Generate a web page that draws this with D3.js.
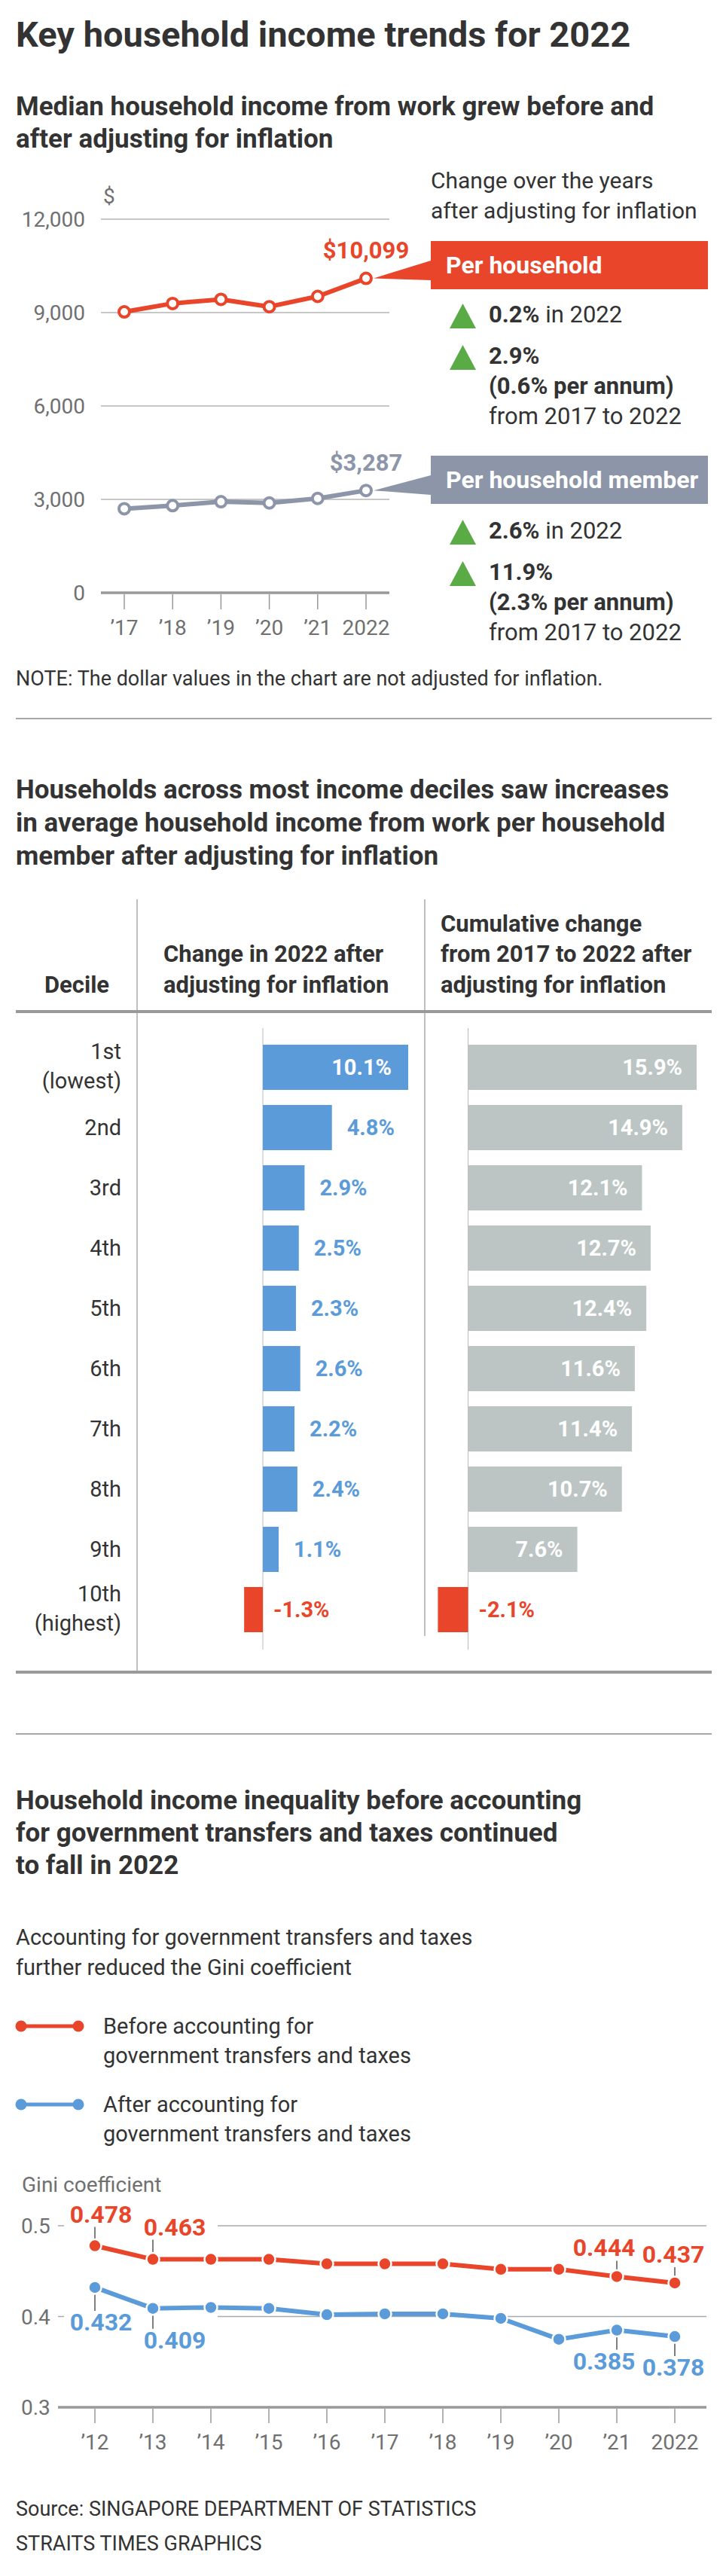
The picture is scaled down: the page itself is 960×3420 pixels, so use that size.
<!DOCTYPE html>
<html>
<head>
<meta charset="utf-8">
<script src="https://cdn.jsdelivr.net/npm/d3@7"></script>
<style>
body{margin:0;background:#fff;}
svg{display:block;font-family:Roboto,"Open Sans",sans-serif;}
</style>
</head>
<body>
<svg id="chart" width="960" height="3420"></svg>
<script>
// income from work (chart 1)
const years = ["2017", "2018", "2019", "2020", "2021", "2022"];
const yearLabels = ["’17", "’18", "’19", "’20", "’21", "2022"];
const perHousehold = [9023, 9293, 9425, 9189, 9520, 10099];
const perMember = [2700, 2800, 2925, 2885, 3030, 3287];
const incomeTicks = [0, 3000, 6000, 9000, 12000];

// deciles (chart 2)
const deciles = ["1st", "2nd", "3rd", "4th", "5th", "6th", "7th", "8th", "9th", "10th"];
const decileNotes = ["(lowest)", "", "", "", "", "", "", "", "", "(highest)"];
const change2022 = [10.1, 4.8, 2.9, 2.5, 2.3, 2.6, 2.2, 2.4, 1.1, -1.3];
const change1722 = [15.9, 14.9, 12.1, 12.7, 12.4, 11.6, 11.4, 10.7, 7.6, -2.1];

// gini (chart 3)
const giniYears = ["2012", "2013", "2014", "2015", "2016", "2017", "2018", "2019", "2020", "2021", "2022"];
const giniYearLabels = ["’12", "’13", "’14", "’15", "’16", "’17", "’18", "’19", "’20", "’21", "2022"];
const giniBefore = [0.478, 0.463, 0.463, 0.463, 0.458, 0.458, 0.458, 0.452, 0.452, 0.444, 0.437];
const giniAfter = [0.432, 0.409, 0.410, 0.409, 0.402, 0.403, 0.403, 0.398, 0.375, 0.385, 0.378];
const giniTicks = [0.3, 0.4, 0.5];
const giniAnnotated = ["2012", "2013", "2021", "2022"];

const TEXT = "#333", GREY = "#707070", RED = "#e8452a", BLUE = "#5b9bd9",
      SLATE = "#8c96a8", GREEN = "#5aab46", BARGREY = "#bcc5c3", RULE = "#999";

const svg = d3.select("#chart");

function label(g, x, y, str, size, weight, fill, anchor) {
    return g.append("text")
        .attr("x", x).attr("y", y)
        .attr("font-size", size)
        .attr("font-weight", weight || 400)
        .attr("fill", fill || TEXT)
        .attr("text-anchor", anchor || "start")
        .text(str);
}

function hline(g, x1, x2, y, w, c) {
    g.append("line").attr("x1", x1).attr("x2", x2).attr("y1", y).attr("y2", y)
        .attr("stroke", c || RULE).attr("stroke-width", w || 1.5);
}

function vline(g, x, y1, y2, w, c) {
    g.append("line").attr("x1", x).attr("x2", x).attr("y1", y1).attr("y2", y2)
        .attr("stroke", c || "#aaa").attr("stroke-width", w || 1.5);
}

// ---------- header ----------
label(svg, 21, 62, "Key household income trends for 2022", 47, 700);
label(svg, 21, 153, "Median household income from work grew before and", 35, 700);
label(svg, 21, 196, "after adjusting for inflation", 35, 700);

// ---------- chart 1: median income ----------
function drawIncome() {
    let g = svg.append("g");
    let x = d3.scalePoint().domain(years).range([165, 486]);
    let y = d3.scaleLinear().domain([0, 12000]).range([787, 291]);

    label(g, 137, 270, "$", 28, 400, GREY);

    g.selectAll("line.grid")
        .data(incomeTicks)
        .join("line")
        .attr("class", "grid")
        .attr("x1", 134).attr("x2", 517)
        .attr("y1", d => y(d)).attr("y2", d => y(d))
        .attr("stroke", d => d === 0 ? "#999" : "#b5b5b5")
        .attr("stroke-width", d => d === 0 ? 3.5 : 1.5);

    g.selectAll("text.ytick")
        .data(incomeTicks)
        .join("text")
        .attr("class", "ytick")
        .attr("x", 113).attr("y", d => y(d) + 10)
        .attr("text-anchor", "end")
        .attr("font-size", 28).attr("fill", GREY)
        .text(d => d3.format(",")(d));

    g.selectAll("line.xtick")
        .data(years)
        .join("line")
        .attr("class", "xtick")
        .attr("x1", d => x(d)).attr("x2", d => x(d))
        .attr("y1", y(0) + 2).attr("y2", y(0) + 22)
        .attr("stroke", "#999").attr("stroke-width", 1.5);

    g.selectAll("text.xtick")
        .data(years)
        .join("text")
        .attr("class", "xtick")
        .attr("x", d => x(d)).attr("y", 843)
        .attr("text-anchor", "middle")
        .attr("font-size", 28).attr("fill", GREY)
        .text((d, i) => yearLabels[i]);

    let series = [
        {values: perHousehold, color: RED, name: "Per household", boxTop: 320, labelDy: -27},
        {values: perMember, color: SLATE, name: "Per household member", boxTop: 605, labelDy: -26}
    ];

    let line = d3.line().x((d, i) => x(years[i])).y(d => y(d));

    series.forEach(s => {
        g.append("path")
            .attr("d", line(s.values))
            .attr("fill", "none")
            .attr("stroke", s.color)
            .attr("stroke-width", 6)
            .attr("stroke-linejoin", "round");

        g.selectAll(null)
            .data(s.values)
            .join("circle")
            .attr("cx", (d, i) => x(years[i]))
            .attr("cy", d => y(d))
            .attr("r", 7)
            .attr("fill", "#fff")
            .attr("stroke", s.color)
            .attr("stroke-width", 4);

        let last = s.values[s.values.length - 1];
        let lx = x(years[years.length - 1]), ly = y(last);
        label(g, lx, ly + s.labelDy, d3.format("$,")(last), 31, 700, s.color, "middle");

        // callout box with pointer
        g.append("polygon")
            .attr("points", [[572, s.boxTop + 26], [lx + 10, ly], [572, s.boxTop + 52]].join(" "))
            .attr("fill", s.color);
        g.append("rect")
            .attr("x", 572).attr("y", s.boxTop)
            .attr("width", 368).attr("height", 64)
            .attr("fill", s.color);
        label(g, 592, s.boxTop + 43, s.name, 32, 700, "#fff");
    });
}

function drawChanges(g, base, pctYear, pctTotal, pctAnnual) {
    let rows = [base, base + 55];
    rows.forEach(b => {
        g.append("polygon")
            .attr("points", [[597, b + 8], [614.5, b - 25], [632, b + 8]].join(" "))
            .attr("fill", GREEN);
    });
    let t = label(g, 649, base, "", 31, 700);
    t.append("tspan").text(pctYear);
    t.append("tspan").attr("font-weight", 400).text(" in 2022");
    label(g, 649, base + 55, pctTotal, 31, 700);
    label(g, 649, base + 95, "(" + pctAnnual + " per annum)", 31, 700);
    label(g, 649, base + 135, "from 2017 to 2022", 31, 400);
}

drawIncome();
label(svg, 572, 250, "Change over the years", 30);
label(svg, 572, 290, "after adjusting for inflation", 30);
drawChanges(svg, 428, "0.2%", "2.9%", "0.6%");
drawChanges(svg, 715, "2.6%", "11.9%", "2.3%");
label(svg, 21, 910, "NOTE: The dollar values in the chart are not adjusted for inflation.", 27);
hline(svg, 21, 945, 954, 1.5, "#888");

// ---------- chart 2: deciles ----------
label(svg, 21, 1060, "Households across most income deciles saw increases", 35, 700);
label(svg, 21, 1104, "in average household income from work per household", 35, 700);
label(svg, 21, 1148, "member after adjusting for inflation", 35, 700);

function drawDeciles() {
    let g = svg.append("g");
    let y = d3.scaleBand().domain(deciles).range([1377, 2177]).paddingInner(0.25).paddingOuter(0.125);
    let xa = d3.scaleLinear().domain([0, 10.1]).range([349, 542]);
    let xb = d3.scaleLinear().domain([0, 15.9]).range([621.5, 925]);
    // plain hyphen for negatives, as in the print graphic
    let fmt = d => d3.format(".1f")(d).replace("−", "-") + "%";

    // table frame
    vline(g, 182, 1194, 2220);
    vline(g, 564, 1194, 2172);
    hline(g, 21, 945, 1343, 4);
    hline(g, 21, 945, 2220, 4);

    label(g, 102, 1318, "Decile", 31, 700, TEXT, "middle");
    label(g, 217, 1277, "Change in 2022 after", 31, 700);
    label(g, 217, 1318, "adjusting for inflation", 31, 700);
    label(g, 585, 1237, "Cumulative change", 31, 700);
    label(g, 585, 1277, "from 2017 to 2022 after", 31, 700);
    label(g, 585, 1318, "adjusting for inflation", 31, 700);

    // decile names
    deciles.forEach((d, i) => {
        let c = y(d) + y.bandwidth() / 2;
        if (decileNotes[i]) {
            label(g, 161, c - 11, d, 29, 400, TEXT, "end");
            label(g, 161, c + 28, decileNotes[i], 29, 400, TEXT, "end");
        } else {
            label(g, 161, c + 10, d, 29, 400, TEXT, "end");
        }
    });

    let panels = [
        {x: xa, values: change2022, fill: BLUE, inside: v => v >= 8, gapIn: 22, gapOut: 20},
        {x: xb, values: change1722, fill: BARGREY, inside: v => v > 0, gapIn: 19, gapOut: 20}
    ];

    panels.forEach(p => {
        vline(g, p.x(0), 1365, 2190, 1, "#bbb");

        g.selectAll(null)
            .data(p.values)
            .join("rect")
            .attr("x", d => p.x(Math.min(0, d)))
            .attr("y", (d, i) => y(deciles[i]))
            .attr("width", d => Math.abs(p.x(d) - p.x(0)))
            .attr("height", y.bandwidth())
            .attr("fill", d => d < 0 ? RED : p.fill);

        g.selectAll(null)
            .data(p.values)
            .join("text")
            .attr("y", (d, i) => y(deciles[i]) + y.bandwidth() / 2 + 10)
            .attr("x", d => d < 0 ? p.x(0) + 14 : p.inside(d) ? p.x(d) - p.gapIn : p.x(d) + p.gapOut)
            .attr("text-anchor", d => d > 0 && p.inside(d) ? "end" : "start")
            .attr("font-size", 29)
            .attr("font-weight", 700)
            .attr("fill", d => d < 0 ? RED : p.inside(d) ? "#fff" : p.fill)
            .text(fmt);
    });
}

drawDeciles();
hline(svg, 21, 945, 2302, 1.5, "#888");

// ---------- chart 3: gini ----------
label(svg, 21, 2402, "Household income inequality before accounting", 35, 700);
label(svg, 21, 2445, "for government transfers and taxes continued", 35, 700);
label(svg, 21, 2488, "to fall in 2022", 35, 700);
label(svg, 21, 2582, "Accounting for government transfers and taxes", 29);
label(svg, 21, 2622, "further reduced the Gini coefficient", 29);

function drawGini() {
    let g = svg.append("g");
    let x = d3.scalePoint().domain(giniYears).range([126, 896]);
    let y = d3.scaleLinear().domain([0.3, 0.5]).range([3196, 2955]);

    // legend
    let legend = [
        {color: RED, y: 2690, text: ["Before accounting for", "government transfers and taxes"]},
        {color: BLUE, y: 2794, text: ["After accounting for", "government transfers and taxes"]}
    ];
    legend.forEach(l => {
        hline(g, 28, 104, l.y, 5, l.color);
        g.selectAll(null).data([28, 104]).join("circle")
            .attr("cx", d => d).attr("cy", l.y).attr("r", 7.5).attr("fill", l.color);
        label(g, 137, l.y + 10, l.text[0], 29);
        label(g, 137, l.y + 49, l.text[1], 29);
    });

    label(g, 29, 2910, "Gini coefficient", 28, 400, GREY);

    giniTicks.forEach(t => {
        if (t === 0.3) {
            hline(g, 77, 938, y(t), 3.5, "#999");
        } else {
            hline(g, 77, 85, y(t), 1.5, "#aaa");
            hline(g, 289, 938, y(t), 1.5, "#aaa");
        }
    });
    g.selectAll("text.ytick")
        .data(giniTicks)
        .join("text")
        .attr("class", "ytick")
        .attr("x", 28).attr("y", d => y(d) + 10)
        .attr("font-size", 28).attr("fill", GREY)
        .text(d => d3.format(".1f")(d));

    g.selectAll("line.xtick")
        .data(giniYears)
        .join("line")
        .attr("class", "xtick")
        .attr("x1", d => x(d)).attr("x2", d => x(d))
        .attr("y1", y(0.3) + 2).attr("y2", y(0.3) + 21)
        .attr("stroke", "#999").attr("stroke-width", 1.5);
    g.selectAll("text.xtick")
        .data(giniYears)
        .join("text")
        .attr("class", "xtick")
        .attr("x", d => x(d)).attr("y", 3252)
        .attr("text-anchor", "middle")
        .attr("font-size", 28).attr("fill", GREY)
        .text((d, i) => giniYearLabels[i]);

    let line = d3.line().x((d, i) => x(giniYears[i])).y(d => y(d));
    // label x shift per annotated year, and where the label sits vs the point
    let shift = {"2012": 8, "2013": 29, "2021": -17, "2022": -2};
    let series = [
        {values: giniBefore, color: RED, above: true},
        {values: giniAfter, color: BLUE, above: false}
    ];

    series.forEach(s => {
        giniAnnotated.forEach(yr => {
            let i = giniYears.indexOf(yr);
            let px = x(yr), py = y(s.values[i]);
            let lift = {"2012": 31, "2013": 32, "2021": 27, "2022": 27}[yr];
            let drop = {"2012": 57, "2013": 53, "2021": 52, "2022": 52}[yr];
            let base = s.above ? py - lift : py + drop;
            if (s.above)
                vline(g, px, base + 6, py, 1.5, "#555");
            else
                vline(g, px, py, base - 26, 1.5, "#555");
            label(g, px + shift[yr], base, d3.format(".3f")(s.values[i]), 32, 700, s.color, "middle")
                .attr("stroke", "#fff").attr("stroke-width", 6)
                .attr("paint-order", "stroke");
        });

        g.append("path")
            .attr("d", line(s.values))
            .attr("fill", "none")
            .attr("stroke", s.color)
            .attr("stroke-width", 6);

        g.selectAll(null)
            .data(s.values)
            .join("circle")
            .attr("cx", (d, i) => x(giniYears[i]))
            .attr("cy", d => y(d))
            .attr("r", 8.5)
            .attr("fill", s.color)
            .attr("stroke", "#fff")
            .attr("stroke-width", 2.5);
    });
}

drawGini();
label(svg, 21, 3340, "Source: SINGAPORE DEPARTMENT OF STATISTICS", 27);
label(svg, 21, 3386, "STRAITS TIMES GRAPHICS", 27);
</script>
</body>
</html>
